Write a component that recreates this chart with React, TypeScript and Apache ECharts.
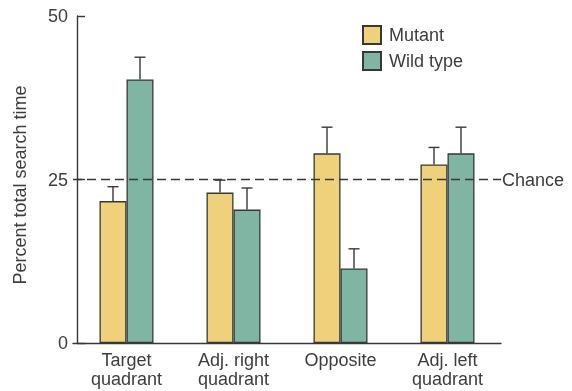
import React, { useEffect, useRef } from "react";
import * as echarts from "echarts";

const categories = ["Target\nquadrant", "Adj. right\nquadrant", "Opposite", "Adj. left\nquadrant"];
const mutant = [21.7, 23.0, 29.0, 27.3];
const mutantErr = [2.2, 1.9, 4.0, 2.6];
const wild = [40.3, 20.4, 11.4, 29.0];
const wildErr = [3.4, 3.3, 3.0, 4.0];
const yTicks = [0, 25, 50];
const chanceLevel = 25;

const FONT = "'Liberation Sans', Arial, sans-serif";
const TEXT = "#3d3d3d";
const INK = "#383838";
const BAR_W = 27;

function errorSeries(name: string, vals: number[], errs: number[], shift: number) {
  return {
    type: "custom",
    name: name + " err",
    z: 3,
    silent: true,
    data: vals.map((v, i) => [i, v, v + errs[i]]),
    renderItem: (params: any, api: any) => {
      const i = api.value(0);
      const lo = api.coord([i, api.value(1)]);
      const hi = api.coord([i, api.value(2)]);
      const x = lo[0] + shift;
      const cap = 5.5;
      return {
        type: "group",
        children: [
          { type: "line", shape: { x1: x, y1: lo[1], x2: x, y2: hi[1] }, style: { stroke: INK, lineWidth: 1.4 } },
          { type: "line", shape: { x1: x - cap, y1: hi[1], x2: x + cap, y2: hi[1] }, style: { stroke: INK, lineWidth: 1.4 } },
        ],
      };
    },
  };
}

export default function App() {
  const ref = useRef<HTMLDivElement>(null);
  useEffect(() => {
    if (!ref.current) return;
    const chart = echarts.init(ref.current, undefined, { renderer: "svg" });
    chart.setOption({
      animation: false,
      textStyle: { fontFamily: FONT },
      grid: { left: 73, top: 16, width: 428, height: 327, containLabel: false, outerBoundsMode: "none" },
      legend: {
        orient: "vertical",
        left: 357,
        top: 20,
        padding: 5,
        itemWidth: 18,
        itemHeight: 18,
        itemGap: 6,
        icon: "rect",
        data: ["Mutant", "Wild type"],
        textStyle: { fontSize: 18, lineHeight: 18, color: TEXT, fontFamily: FONT, padding: [0, 0, 0, 3] },
        selectedMode: false,
      },
      xAxis: {
        type: "category",
        data: categories,
        axisLine: { lineStyle: { color: INK, width: 1.4 } },
        axisTick: { show: false },
        axisLabel: { fontSize: 18, color: TEXT, lineHeight: 19, margin: 7, fontFamily: FONT },
      },
      yAxis: {
        type: "value",
        min: 0,
        max: 50,
        interval: 25,
        offset: -4,
        name: "Percent total search time",
        nameLocation: "middle",
        nameGap: 48,
        nameTextStyle: { fontSize: 18, color: TEXT, fontFamily: FONT, padding: [0, 11, 0, 0] },
        axisLine: { show: true, lineStyle: { color: INK, width: 1.4 } },
        axisTick: { show: true, inside: true, length: 8, lineStyle: { color: INK, width: 1.4 } },
        splitLine: { show: false },
        axisLabel: {
          fontSize: 18,
          color: TEXT,
          margin: 9,
          fontFamily: FONT,
          formatter: (v: number) => (yTicks.includes(v) ? String(v) : ""),
        },
      },
      series: [
        {
          type: "line",
          name: "chance",
          z: 1,
          data: [],
          silent: true,
          markLine: {
            silent: true,
            symbol: ["none", "none"],
            data: [{ yAxis: chanceLevel }],
            lineStyle: { color: INK, type: [9, 5], width: 1.3 },
            label: { show: true, position: "end", distance: 1, formatter: "Chance", fontSize: 18, color: TEXT, fontFamily: FONT },
          },
        },
        {
          type: "bar",
          name: "Mutant",
          z: 2,
          data: mutant,
          barWidth: BAR_W,
          barGap: "0%",
          itemStyle: { color: "#EFD17B", borderColor: INK, borderWidth: 1.3 },
        },
        {
          type: "bar",
          name: "Wild type",
          z: 2,
          data: wild,
          barWidth: BAR_W,
          barGap: "0%",
          itemStyle: { color: "#7FB5A2", borderColor: INK, borderWidth: 1.3 },
        },
        errorSeries("Mutant", mutant, mutantErr, -BAR_W / 2),
        errorSeries("Wild type", wild, wildErr, BAR_W / 2),
      ],
    });
    return () => chart.dispose();
  }, []);
  return <div ref={ref} style={{ position: "fixed", left: 0, top: 0, width: 572, height: 391 }} />;
}
